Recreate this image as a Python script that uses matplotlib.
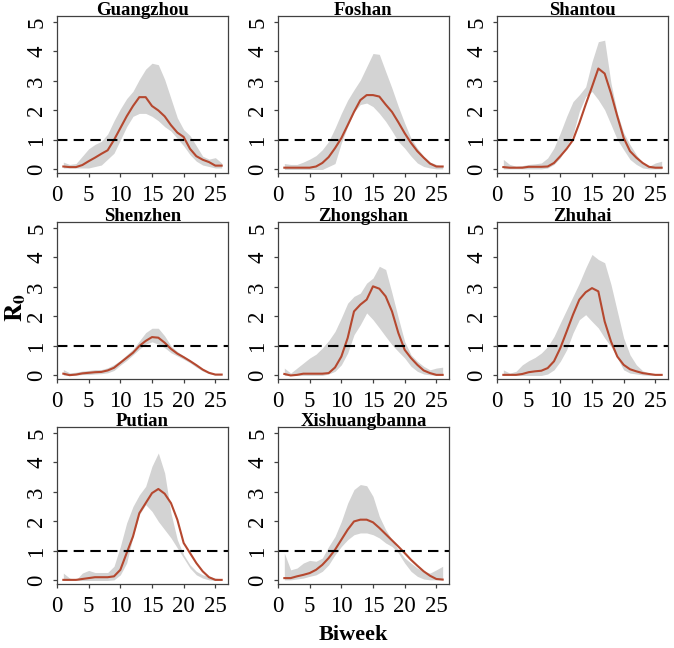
import numpy as np
import matplotlib
matplotlib.use("Agg")
import matplotlib.pyplot as plt

plt.rcParams['font.family'] = ['Liberation Serif', 'DejaVu Serif']
plt.rcParams['mathtext.fontset'] = 'stix'

# ---- data -------------------------------------------------------------
biweek = list(range(1, 27))
cities = ["Guangzhou", "Foshan", "Shantou", "Shenzhen", "Zhongshan",
          "Zhuhai", "Putian", "Xishuangbanna"]

guangzhou_mid = [0.10, 0.08, 0.08, 0.15, 0.28, 0.40, 0.53, 0.65, 1.00, 1.40, 1.80, 2.15, 2.45,
                 2.45, 2.15, 2.00, 1.80, 1.50, 1.25, 1.10, 0.70, 0.45, 0.33, 0.25, 0.13, 0.13]
guangzhou_hi = [0.25, 0.17, 0.20, 0.45, 0.70, 0.85, 0.95, 1.20, 1.65, 2.05, 2.40, 2.65, 3.05,
                3.40, 3.60, 3.55, 3.05, 2.40, 1.75, 1.35, 1.15, 0.80, 0.45, 0.35, 0.40, 0.22]
guangzhou_lo = [0.05, 0.05, 0.05, 0.05, 0.05, 0.10, 0.15, 0.35, 0.55, 1.00, 1.45, 1.80, 1.90,
                1.90, 1.80, 1.65, 1.45, 1.30, 1.05, 0.80, 0.50, 0.28, 0.15, 0.10, 0.05, 0.05]

foshan_mid = [0.06, 0.06, 0.06, 0.06, 0.06, 0.10, 0.22, 0.42, 0.72, 1.06, 1.50, 1.95, 2.35,
              2.52, 2.52, 2.47, 2.20, 1.95, 1.60, 1.23, 0.90, 0.62, 0.40, 0.20, 0.10, 0.10]
foshan_hi = [0.20, 0.17, 0.17, 0.25, 0.35, 0.47, 0.67, 0.95, 1.40, 1.90, 2.35, 2.70, 3.03,
             3.48, 3.93, 3.90, 3.32, 2.75, 2.13, 1.57, 1.06, 0.72, 0.45, 0.25, 0.17, 0.10]
foshan_lo = [0.00, 0.00, 0.00, 0.00, 0.00, 0.00, 0.00, 0.10, 0.20, 0.90, 1.46, 1.95, 2.20,
             2.25, 2.13, 1.90, 1.63, 1.30, 0.95, 0.72, 0.45, 0.22, 0.10, 0.05, 0.02, 0.02]

shantou_mid = [0.08, 0.06, 0.06, 0.06, 0.09, 0.09, 0.09, 0.10, 0.22, 0.45, 0.70, 1.00, 1.57,
               2.20, 2.80, 3.42, 3.25, 2.58, 1.80, 1.07, 0.62, 0.40, 0.22, 0.09, 0.06, 0.06]
shantou_hi = [0.34, 0.17, 0.11, 0.13, 0.17, 0.19, 0.22, 0.39, 0.73, 1.24, 1.80, 2.30, 2.53,
              2.80, 3.65, 4.33, 4.38, 2.92, 1.91, 1.24, 0.84, 0.50, 0.22, 0.11, 0.22, 0.28]
shantou_lo = [0.02, 0.02, 0.02, 0.02, 0.02, 0.02, 0.02, 0.05, 0.17, 0.40, 0.79, 1.18, 1.97,
              2.47, 2.64, 2.36, 2.02, 1.52, 1.01, 0.67, 0.34, 0.17, 0.05, 0.02, 0.02, 0.02]

shenzhen_mid = [0.06, 0.01, 0.03, 0.07, 0.09, 0.11, 0.12, 0.17, 0.26, 0.43, 0.60, 0.77, 1.00,
                1.17, 1.30, 1.28, 1.11, 0.90, 0.74, 0.62, 0.49, 0.35, 0.20, 0.09, 0.03, 0.03]
shenzhen_hi = [0.20, 0.09, 0.11, 0.15, 0.17, 0.20, 0.20, 0.26, 0.37, 0.51, 0.70, 0.89, 1.17,
               1.45, 1.60, 1.60, 1.34, 1.00, 0.81, 0.66, 0.51, 0.37, 0.23, 0.11, 0.06, 0.06]
shenzhen_lo = [0.01, 0.00, 0.01, 0.03, 0.03, 0.05, 0.06, 0.09, 0.17, 0.35, 0.51, 0.70, 0.89,
               1.06, 1.14, 1.06, 0.94, 0.77, 0.66, 0.55, 0.43, 0.28, 0.15, 0.06, 0.01, 0.01]

zhongshan_mid = [0.05, 0.00, 0.02, 0.06, 0.06, 0.06, 0.06, 0.08, 0.27, 0.64, 1.27, 2.17, 2.40,
                 2.57, 3.02, 2.94, 2.68, 2.17, 1.44, 0.87, 0.59, 0.36, 0.17, 0.08, 0.02, 0.02]
zhongshan_hi = [0.25, 0.08, 0.25, 0.42, 0.59, 0.72, 0.93, 1.18, 1.49, 1.95, 2.45, 2.68, 2.79,
                3.13, 3.30, 3.70, 3.59, 2.79, 1.95, 1.15, 0.70, 0.48, 0.31, 0.19, 0.25, 0.28]
zhongshan_lo = [0.00, 0.00, 0.00, 0.00, 0.00, 0.00, 0.00, 0.05, 0.14, 0.36, 0.76, 1.38, 1.72,
                2.12, 1.89, 1.61, 1.32, 1.04, 0.81, 0.59, 0.31, 0.14, 0.05, 0.02, 0.00, 0.00]

zhuhai_mid = [0.02, 0.02, 0.02, 0.05, 0.11, 0.14, 0.16, 0.25, 0.48, 0.93, 1.49, 2.06, 2.57,
              2.82, 2.96, 2.85, 1.83, 1.15, 0.64, 0.36, 0.21, 0.14, 0.08, 0.05, 0.02, 0.02]
zhuhai_hi = [0.19, 0.08, 0.14, 0.36, 0.50, 0.61, 0.76, 0.98, 1.32, 1.78, 2.23, 2.68, 3.13,
             3.64, 4.10, 3.93, 3.82, 3.08, 2.17, 1.27, 0.70, 0.36, 0.16, 0.08, 0.05, 0.05]
zhuhai_lo = [0.00, 0.00, 0.00, 0.00, 0.00, 0.00, 0.00, 0.05, 0.19, 0.48, 0.87, 1.44, 1.89,
             2.06, 1.83, 1.61, 1.27, 0.98, 0.59, 0.19, 0.08, 0.05, 0.02, 0.00, 0.00, 0.00]

putian_mid = [0.02, 0.02, 0.02, 0.05, 0.08, 0.11, 0.11, 0.11, 0.14, 0.36, 0.93, 1.49, 2.28,
              2.62, 2.96, 3.10, 2.94, 2.62, 2.06, 1.27, 0.93, 0.59, 0.31, 0.11, 0.02, 0.02]
putian_hi = [0.25, 0.08, 0.02, 0.25, 0.34, 0.27, 0.27, 0.27, 0.48, 1.15, 1.95, 2.51, 2.90,
             3.19, 3.87, 4.32, 3.64, 2.28, 1.38, 0.87, 0.53, 0.31, 0.19, 0.14, 0.08, 0.05]
putian_lo = [0.00, 0.00, 0.00, 0.00, 0.00, 0.00, 0.00, 0.00, 0.02, 0.19, 0.59, 1.49, 2.23,
             2.57, 2.34, 2.00, 1.72, 1.44, 1.10, 0.76, 0.42, 0.19, 0.08, 0.02, 0.00, 0.00]

xishuangbanna_mid = [0.08, 0.08, 0.14, 0.19, 0.25, 0.36, 0.53, 0.76, 1.04, 1.38, 1.72, 2.00, 2.06,
                     2.06, 1.97, 1.78, 1.57, 1.36, 1.15, 0.93, 0.70, 0.50, 0.31, 0.16, 0.05, 0.03]
xishuangbanna_hi = [0.93, 0.36, 0.42, 0.59, 0.68, 0.65, 0.76, 1.15, 1.49, 2.00, 2.62, 3.08, 3.25,
                    3.21, 2.85, 2.17, 1.72, 1.38, 1.04, 0.76, 0.59, 0.42, 0.31, 0.25, 0.36, 0.48]
xishuangbanna_lo = [0.02, 0.02, 0.05, 0.08, 0.14, 0.19, 0.31, 0.53, 0.87, 1.15, 1.38, 1.55, 1.61,
                    1.61, 1.55, 1.44, 1.27, 1.15, 0.93, 0.59, 0.31, 0.14, 0.05, 0.02, 0.02, 0.02]

series = [
    (guangzhou_mid, guangzhou_lo, guangzhou_hi),
    (foshan_mid, foshan_lo, foshan_hi),
    (shantou_mid, shantou_lo, shantou_hi),
    (shenzhen_mid, shenzhen_lo, shenzhen_hi),
    (zhongshan_mid, zhongshan_lo, zhongshan_hi),
    (zhuhai_mid, zhuhai_lo, zhuhai_hi),
    (putian_mid, putian_lo, putian_hi),
    (xishuangbanna_mid, xishuangbanna_lo, xishuangbanna_hi),
]

# ---- figure -----------------------------------------------------------
W, H = 674, 648
fig = plt.figure(figsize=(W / 100, H / 100), dpi=100)

col_left = [57, 278, 497]
row_top = [16, 222, 427]
pw, ph = 171, 157
spine_col = "#404040"

for i, (name, (mid, lo, hi)) in enumerate(zip(cities, series)):
    r, c = divmod(i, 3)
    rect = [col_left[c] / W, 1 - (row_top[r] + ph) / H, pw / W, ph / H]
    ax = fig.add_axes(rect)
    ax.fill_between(biweek, lo, hi, color="#d3d3d3", lw=0)
    ax.plot(biweek, mid, color="#b5482f", lw=1.5)
    ax.axhline(1, color="black", lw=1.5, linestyle=(0, (5, 3)))
    ax.set_xlim(0, 27)
    ax.set_ylim(-0.12, 5.2)
    ax.set_xticks([0, 5, 10, 15, 20, 25])
    ax.set_yticks([0, 1, 2, 3, 4, 5])
    ax.tick_params(axis="both", labelsize=16.5, length=3, width=0.9,
                   color=spine_col)
    ax.tick_params(axis="x", pad=5.5)
    ax.tick_params(axis="y", labelrotation=90, pad=4)
    for lab in ax.get_yticklabels():
        lab.set_va("center")
    for sp in ax.spines.values():
        sp.set_color(spine_col)
        sp.set_linewidth(0.9)
    ax.set_title(name, fontsize=13.5, fontweight="bold", y=1.0, pad=1)

fig.text(16 / W, 1 - 308 / H, r"$\mathbf{R_0}$", rotation=90, fontsize=18,
         ha="center", va="center")
fig.text(353 / W, 1 - 635 / H, "Biweek", fontsize=16, fontweight="bold",
         ha="center", va="center")

fig.savefig("out.png", dpi=100)
